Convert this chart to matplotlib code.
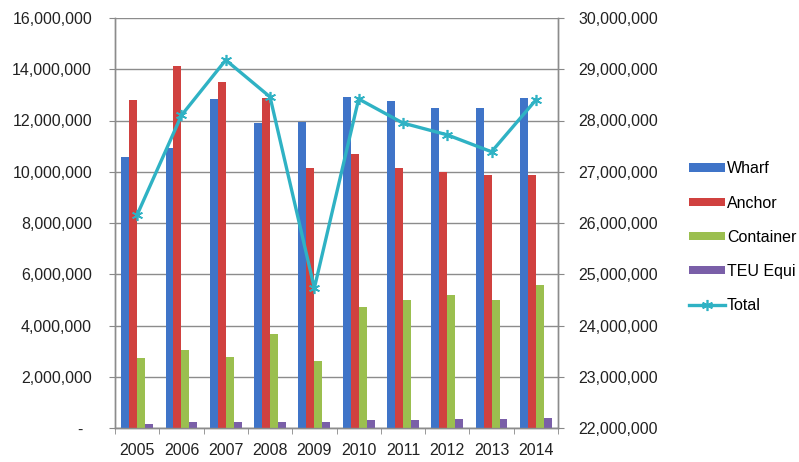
import matplotlib
matplotlib.use("Agg")
import matplotlib.pyplot as plt
import numpy as np
from matplotlib.ticker import FuncFormatter, FixedLocator

years = ["2005", "2006", "2007", "2008", "2009", "2010", "2011", "2012", "2013", "2014"]
wharf = [10580000, 10930000, 12840000, 11900000, 11940000, 12920000, 12760000, 12490000, 12490000, 12880000]
anchor = [12800000, 14130000, 13500000, 12880000, 10150000, 10690000, 10150000, 9990000, 9870000, 9870000]
container = [2730000, 3040000, 2770000, 3670000, 2610000, 4720000, 5000000, 5190000, 5000000, 5580000]
teu = [170000, 220000, 250000, 250000, 240000, 300000, 330000, 350000, 350000, 380000]
total = [26160000, 28100000, 29180000, 28460000, 24730000, 28420000, 27950000, 27720000, 27390000, 28400000]

names = ["Wharf", "Anchor", "Container", "TEU Equi", "Total"]
colors = ["#3f74c8", "#d0413f", "#9bbf4f", "#7a5fa8", "#2fb2c4"]

plt.rcParams['font.family'] = ['Liberation Sans', 'DejaVu Sans']

fig = plt.figure(figsize=(7.99, 4.62), dpi=100)
ax = fig.add_axes([115/799, 1-428/462, (558-115)/799, (428-18)/462])
ax2 = ax.twinx()

x = np.arange(len(years))
w = 0.18
handles = []
for i, (vals, name, c) in enumerate(zip([wharf, anchor, container, teu], names, colors)):
    b = ax.bar(x + (i - 1.5) * w, vals, width=w, color=c, label=name, zorder=3)
    handles.append(b)

ln, = ax2.plot(x, total, color=colors[4], lw=2.4, marker=(6, 2, 0), ms=8, mew=1.2,
               label="Total", zorder=5)
handles.append(ln)

ax.set_xlim(-0.5, len(years) - 0.5)
ax.set_ylim(0, 16000000)
ax2.set_ylim(22000000, 30000000)
ax.set_yticks(np.arange(0, 16000001, 2000000))
ax2.set_yticks(np.arange(22000000, 30000001, 1000000))

def fmt_left(v, p):
    return "-  " if v == 0 else f"{int(v):,}"
ax.yaxis.set_major_formatter(FuncFormatter(fmt_left))
ax2.yaxis.set_major_formatter(FuncFormatter(lambda v, p: f"{int(v):,}"))

ax.set_xticks(x)
ax.set_xticklabels(years)
ax.xaxis.set_minor_locator(FixedLocator(np.arange(-0.5, len(years), 1.0)))
ax.tick_params(axis='x', which='major', length=0, labelsize=11.5, pad=11, colors="#222222")
ax.tick_params(axis='x', which='minor', length=4, color="#888888")
ax.tick_params(axis='y', length=4, color="#888888", labelsize=11.5, labelcolor="#222222", pad=12.5)
ax2.tick_params(axis='y', length=4, color="#888888", labelsize=11.5, labelcolor="#222222", pad=10.5)

ax.grid(axis='y', color="#8c8c8c", lw=1.0, zorder=0)
ax.set_axisbelow(True)
for a in (ax, ax2):
    a.spines['top'].set_visible(False)
    for s in ('left', 'right', 'bottom'):
        a.spines[s].set_color("#8c8c8c")
        a.spines[s].set_linewidth(1.0)

leg = fig.legend(handles, names, loc='upper left', bbox_to_anchor=(683/799, 1-155/462),
                 frameon=False, fontsize=11.5, handlelength=2.2, handleheight=0.45,
                 handletextpad=0.15, labelspacing=1.2, borderaxespad=0)
fig.savefig("out.png", dpi=100)
